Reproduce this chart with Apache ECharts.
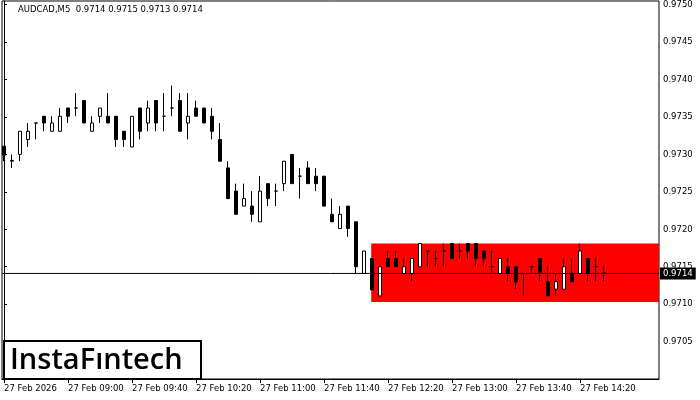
<!DOCTYPE html>
<html>
<head>
<meta charset="utf-8">
<script src="https://cdn.jsdelivr.net/npm/echarts@6/dist/echarts.min.js"></script>
<style>
  html, body { margin: 0; padding: 0; background: #fff; }
  #chart { width: 700px; height: 400px; }
</style>
</head>
<body>
<div id="chart"></div>
<script>
// AUDCAD M5, one bar per 5 minutes starting 27 Feb 08:20
const symbol = 'AUDCAD,M5';
const lastBar = ['0.9714', '0.9715', '0.9713', '0.9714'];

const tickIndex = [0, 8, 16, 24, 32, 40, 48, 56, 64, 72];
const tickLabels = ['27 Feb 2026', '27 Feb 09:00', '27 Feb 09:40', '27 Feb 10:20', '27 Feb 11:00',
  '27 Feb 11:40', '27 Feb 12:20', '27 Feb 13:00', '27 Feb 13:40', '27 Feb 14:20'];

const opens = [
  0.97311, 0.97291, 0.97300, 0.97320, 0.97342, 0.97351, 0.97331, 0.97331, 0.97362, 0.97362,
  0.97372, 0.97331, 0.97351, 0.97351, 0.97351, 0.97331, 0.97310, 0.97362, 0.97342, 0.97372,
  0.97351, 0.97362, 0.97372, 0.97342, 0.97362, 0.97362, 0.97351, 0.97320, 0.97282, 0.97251,
  0.97231, 0.97231, 0.97210, 0.97261, 0.97251, 0.97261, 0.97300, 0.97271, 0.97282, 0.97271,
  0.97271, 0.97220, 0.97201, 0.97231, 0.97210, 0.97141, 0.97161, 0.97111, 0.97161, 0.97161,
  0.97141, 0.97141, 0.97150, 0.97171, 0.97161, 0.97171, 0.97181, 0.97171, 0.97181, 0.97181,
  0.97171, 0.97150, 0.97141, 0.97150, 0.97150, 0.97141, 0.97150, 0.97161, 0.97130, 0.97120,
  0.97120, 0.97141, 0.97141, 0.97161, 0.97150, 0.97141
];
const closes = [
  0.97299, 0.97292, 0.97331, 0.97331, 0.97342, 0.97342, 0.97342, 0.97351, 0.97351, 0.97362,
  0.97342, 0.97342, 0.97362, 0.97342, 0.97320, 0.97320, 0.97351, 0.97331, 0.97362, 0.97342,
  0.97351, 0.97362, 0.97331, 0.97351, 0.97351, 0.97342, 0.97331, 0.97291, 0.97241, 0.97220,
  0.97241, 0.97220, 0.97251, 0.97241, 0.97251, 0.97291, 0.97261, 0.97271, 0.97261, 0.97261,
  0.97231, 0.97210, 0.97220, 0.97201, 0.97150, 0.97171, 0.97119, 0.97150, 0.97150, 0.97150,
  0.97150, 0.97161, 0.97181, 0.97171, 0.97161, 0.97171, 0.97161, 0.97171, 0.97171, 0.97161,
  0.97161, 0.97150, 0.97161, 0.97141, 0.97130, 0.97141, 0.97150, 0.97141, 0.97111, 0.97130,
  0.97150, 0.97130, 0.97171, 0.97141, 0.97150, 0.97142
];
const lows = [
  0.97291, 0.97282, 0.97291, 0.97310, 0.97320, 0.97331, 0.97331, 0.97331, 0.97342, 0.97351,
  0.97342, 0.97331, 0.97342, 0.97342, 0.97310, 0.97310, 0.97310, 0.97320, 0.97331, 0.97331,
  0.97331, 0.97351, 0.97331, 0.97320, 0.97351, 0.97342, 0.97320, 0.97291, 0.97241, 0.97220,
  0.97231, 0.97210, 0.97210, 0.97231, 0.97231, 0.97251, 0.97261, 0.97241, 0.97261, 0.97251,
  0.97231, 0.97210, 0.97201, 0.97190, 0.97141, 0.97141, 0.97119, 0.97111, 0.97150, 0.97150,
  0.97141, 0.97130, 0.97150, 0.97150, 0.97150, 0.97150, 0.97161, 0.97161, 0.97161, 0.97150,
  0.97150, 0.97141, 0.97141, 0.97130, 0.97120, 0.97111, 0.97141, 0.97130, 0.97111, 0.97111,
  0.97120, 0.97130, 0.97141, 0.97130, 0.97130, 0.97130
];
const highs = [
  0.97311, 0.97300, 0.97331, 0.97342, 0.97342, 0.97351, 0.97351, 0.97362, 0.97362, 0.97382,
  0.97372, 0.97351, 0.97362, 0.97382, 0.97351, 0.97331, 0.97351, 0.97362, 0.97372, 0.97372,
  0.97382, 0.97392, 0.97382, 0.97382, 0.97372, 0.97362, 0.97362, 0.97342, 0.97291, 0.97261,
  0.97261, 0.97251, 0.97271, 0.97261, 0.97261, 0.97291, 0.97300, 0.97282, 0.97291, 0.97282,
  0.97271, 0.97241, 0.97231, 0.97231, 0.97210, 0.97171, 0.97161, 0.97150, 0.97171, 0.97171,
  0.97161, 0.97161, 0.97181, 0.97171, 0.97171, 0.97181, 0.97181, 0.97181, 0.97181, 0.97181,
  0.97171, 0.97171, 0.97161, 0.97161, 0.97150, 0.97141, 0.97150, 0.97161, 0.97150, 0.97141,
  0.97161, 0.97161, 0.97181, 0.97161, 0.97161, 0.97150
];

const bidPrice = 0.97141;
// red pattern zone
const zoneStart = 45.9;
const zoneTop = 0.97181;
const zoneBottom = 0.97103;

const xMin = -0.25;
const xMax = 81.875;

const candles = opens.map((o, i) => [i, o, closes[i], lows[i], highs[i]]);

const chart = echarts.init(document.getElementById('chart'));
const option = {
  animation: false,
  backgroundColor: '#fff',
  title: {
    text: symbol + '  ' + lastBar.join(' '),
    left: 18,
    top: 5,
    padding: 0,
    textStyle: { fontFamily: 'DejaVu Sans', fontSize: 8.5, fontWeight: 'normal', color: '#000' }
  },
  grid: {
    left: 2, right: 41, top: 1, bottom: 21,
    show: true, borderColor: '#000', borderWidth: 1, backgroundColor: '#fff'
  },
  xAxis: {
    type: 'value',
    min: xMin,
    max: xMax,
    splitLine: { show: false },
    axisLine: { show: true, lineStyle: { color: '#000' } },
    axisTick: { show: true, length: 4, lineStyle: { color: '#000' }, customValues: tickIndex },
    axisLabel: {
      customValues: tickIndex,
      align: 'left',
      margin: 5,
      color: '#000',
      fontFamily: 'DejaVu Sans',
      fontSize: 8.5,
      formatter: v => tickLabels[tickIndex.indexOf(Math.round(v))] || ''
    }
  },
  yAxis: {
    type: 'value',
    position: 'right',
    min: 0.97,
    max: 0.97505,
    interval: 0.0005,
    scale: true,
    splitLine: { show: false },
    axisLine: { show: true, lineStyle: { color: '#000' } },
    axisTick: { show: true, length: 3, lineStyle: { color: '#000' } },
    axisLabel: {
      showMinLabel: false,
      showMaxLabel: false,
      margin: 4,
      color: '#000',
      fontFamily: 'DejaVu Sans',
      fontSize: 8.5,
      formatter: v => v.toFixed(4)
    }
  },
  series: [
    {
      type: 'candlestick',
      data: candles,
      barWidth: 4,
      z: 3,
      itemStyle: {
        color: '#fff', color0: '#000',
        borderColor: '#000', borderColor0: '#000', borderColorDoji: '#000',
        borderWidth: 1
      },
      markArea: {
        silent: true,
        itemStyle: { color: '#ff0000', opacity: 1 },
        data: [[{ xAxis: zoneStart, yAxis: zoneTop }, { xAxis: xMax, yAxis: zoneBottom }]]
      }
    },
    {
      // bid line
      type: 'line',
      z: 4,
      silent: true,
      symbol: 'none',
      data: [[xMin, bidPrice], [xMax, bidPrice]],
      lineStyle: { color: '#000', width: 1 },
      endLabel: {
        show: true,
        distance: 1,
        formatter: lastBar[3],
        color: '#fff',
        backgroundColor: '#000',
        padding: [2, 3, 1, 3],
        fontFamily: 'DejaVu Sans',
        fontSize: 8.5
      }
    }
  ],
  graphic: [
    {
      type: 'rect', left: 3, top: 340, z: 100,
      shape: { width: 197, height: 38 },
      style: { fill: '#fff', stroke: '#000', lineWidth: 2 }
    },
    {
      type: 'text', left: 10, top: 346, z: 101,
      style: { text: 'InstaFıntech', font: '600 29px "Open Sans"', fill: '#000' }
    }
  ]
};
chart.setOption(option);
</script>
</body>
</html>
